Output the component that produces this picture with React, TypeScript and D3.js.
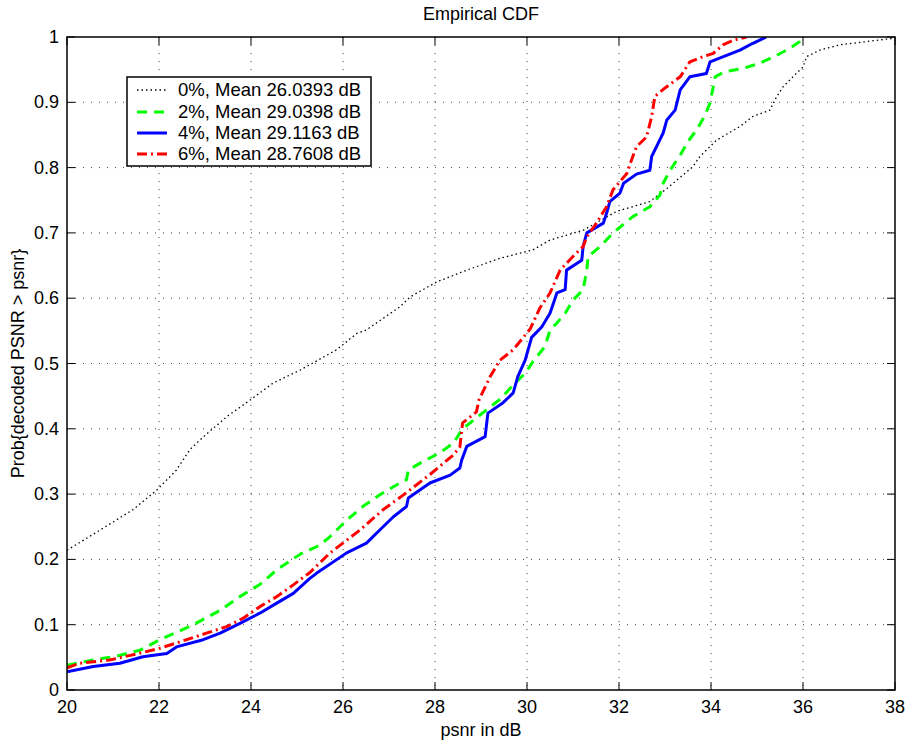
import React from 'react';
import * as d3 from 'd3';

// psnr (dB) vs Prob{decoded PSNR > psnr}
const cdf0: [number, number][] = [
  [20, 0.214], [20.72, 0.245], [21.43, 0.276], [21.95, 0.306], [22.38, 0.337], [22.67, 0.368],
  [23.0, 0.39], [23.5, 0.42], [24.0, 0.445], [24.48, 0.47], [25.07, 0.49], [25.86, 0.521],
  [26.3, 0.546], [26.5, 0.551], [27.24, 0.587], [27.46, 0.602], [28.04, 0.625], [28.69, 0.643],
  [29.41, 0.661], [30.13, 0.674], [30.5, 0.689], [31.22, 0.704], [31.95, 0.733], [32.67, 0.748],
  [33.04, 0.768], [33.6, 0.801], [33.76, 0.817], [34.12, 0.842], [34.63, 0.863], [34.9, 0.878],
  [35.28, 0.888], [35.43, 0.909], [35.57, 0.924], [35.78, 0.939], [36.0, 0.954], [36.08, 0.97],
  [36.37, 0.98], [36.8, 0.988], [37.38, 0.993], [37.96, 0.998], [38, 1.0]
];

const cdf2: [number, number][] = [
  [20, 0.038], [20.57, 0.046], [21.08, 0.052], [21.59, 0.061], [22.02, 0.077], [22.75, 0.1],
  [23.33, 0.122], [23.76, 0.143], [24.2, 0.162], [24.56, 0.184], [25.07, 0.208], [25.5, 0.222],
  [25.72, 0.235], [26.08, 0.26], [26.43, 0.281], [26.8, 0.299], [27.24, 0.317], [27.38, 0.322],
  [27.42, 0.337], [27.74, 0.35], [28.1, 0.363], [28.4, 0.378], [28.6, 0.4], [29.12, 0.429],
  [29.41, 0.445], [29.74, 0.47], [29.96, 0.485], [30.13, 0.503], [30.39, 0.526], [30.5, 0.551],
  [30.65, 0.562], [30.83, 0.577], [31.0, 0.597], [31.22, 0.613], [31.3, 0.643], [31.33, 0.664],
  [31.59, 0.679], [31.87, 0.7], [32.3, 0.725], [32.67, 0.74], [32.89, 0.758], [32.96, 0.776],
  [33.11, 0.796], [33.33, 0.819], [33.5, 0.84], [33.69, 0.858], [33.87, 0.88], [33.98, 0.899],
  [34.05, 0.924], [34.09, 0.939], [34.3, 0.947], [34.7, 0.952], [35.07, 0.96], [35.43, 0.972],
  [35.72, 0.983], [35.93, 0.993], [36.0, 1.0]
];

const cdf4: [number, number][] = [
  [20, 0.028], [20.57, 0.036], [21.15, 0.041], [21.65, 0.051], [22.17, 0.056], [22.38, 0.066],
  [22.96, 0.077], [23.33, 0.087], [23.76, 0.102], [24.2, 0.118], [24.56, 0.133], [24.92, 0.148],
  [25.28, 0.171], [25.43, 0.179], [26.08, 0.21], [26.51, 0.225], [26.8, 0.245], [27.09, 0.265],
  [27.38, 0.281], [27.42, 0.294], [27.89, 0.317], [28.33, 0.329], [28.54, 0.34], [28.58, 0.352],
  [28.69, 0.373], [29.09, 0.388], [29.15, 0.424], [29.48, 0.44], [29.7, 0.455], [29.8, 0.48],
  [29.96, 0.505], [30.1, 0.54], [30.32, 0.556], [30.5, 0.577], [30.65, 0.608], [30.83, 0.613],
  [30.86, 0.643], [31.19, 0.658], [31.22, 0.679], [31.3, 0.7], [31.66, 0.715], [31.73, 0.73],
  [31.8, 0.748], [32.02, 0.761], [32.1, 0.776], [32.38, 0.79], [32.67, 0.796], [32.71, 0.817],
  [32.85, 0.837], [32.96, 0.853], [33.04, 0.873], [33.22, 0.888], [33.33, 0.919], [33.54, 0.939],
  [33.9, 0.944], [33.98, 0.962], [34.2, 0.968], [34.63, 0.98], [34.9, 0.99], [35.2, 1.0]
];

const cdf6: [number, number][] = [
  [20, 0.034], [20.28, 0.041], [20.93, 0.046], [21.5, 0.055], [22.02, 0.064], [22.38, 0.072],
  [23.03, 0.087], [23.47, 0.097], [23.83, 0.11], [24.2, 0.128], [24.56, 0.143], [24.92, 0.161],
  [25.28, 0.18], [25.72, 0.21], [26.37, 0.245], [26.87, 0.276], [27.3, 0.298], [27.89, 0.33],
  [28.4, 0.36], [28.54, 0.372], [28.6, 0.409], [28.9, 0.426], [28.96, 0.445], [29.2, 0.48],
  [29.41, 0.505], [29.7, 0.521], [30.07, 0.553], [30.28, 0.585], [30.5, 0.608], [30.72, 0.643],
  [31.0, 0.664], [31.22, 0.679], [31.3, 0.694], [31.51, 0.715], [31.73, 0.74], [31.87, 0.766],
  [32.17, 0.791], [32.3, 0.817], [32.38, 0.832], [32.6, 0.847], [32.71, 0.878], [32.78, 0.909],
  [33.0, 0.922], [33.33, 0.939], [33.54, 0.962], [33.83, 0.97], [34.05, 0.975], [34.26, 0.988],
  [34.48, 0.995], [34.77, 1.0]
];

const legendLabels = [
  '0%, Mean 26.0393 dB',
  '2%, Mean 29.0398 dB',
  '4%, Mean 29.1163 dB',
  '6%, Mean 28.7608 dB'
];

const xTicks = [20, 22, 24, 26, 28, 30, 32, 34, 36, 38];
const yTicks = [0, 0.1, 0.2, 0.3, 0.4, 0.5, 0.6, 0.7, 0.8, 0.9, 1];

const series = [
  { data: cdf0, color: '#000', width: 1.3, dash: '1.5,3' },
  { data: cdf2, color: '#00ff00', width: 3, dash: '10,7' },
  { data: cdf4, color: '#0000ff', width: 3, dash: null },
  { data: cdf6, color: '#ff0000', width: 3, dash: '10,4,2,4' }
];

const W = 907;
const H = 740;
const left = 67, right = 895, top = 37, bottom = 690;
const font = '"Liberation Sans", Arial, Helvetica, sans-serif';

export default function App() {
  const x = d3.scaleLinear().domain([20, 38]).range([left, right]);
  const y = d3.scaleLinear().domain([0, 1]).range([bottom, top]);
  const line = d3.line<[number, number]>().x(d => x(d[0])).y(d => y(d[1]));

  const legX = 127, legY = 77, legW = 244, legH = 89;
  const rowY = [90, 112, 133, 154];

  return (
    <svg width={W} height={H} style={{ position: 'absolute', left: 0, top: 0, background: '#fff' }}
      fontFamily={font}>
      <rect x={0} y={0} width={W} height={H} fill="#fff" />
      <defs>
        <clipPath id="plot">
          <rect x={left} y={top} width={right - left} height={bottom - top} />
        </clipPath>
      </defs>

      {/* grid */}
      {xTicks.slice(1, -1).map(t => (
        <line key={'gx' + t} x1={x(t)} x2={x(t)} y1={top} y2={bottom}
          stroke="#444" strokeWidth={1} strokeDasharray="1,7" />
      ))}
      {yTicks.slice(1, -1).map(t => (
        <line key={'gy' + t} x1={left} x2={right} y1={y(t)} y2={y(t)}
          stroke="#444" strokeWidth={1} strokeDasharray="1,7" />
      ))}

      {/* ticks, inward on all sides */}
      {xTicks.map(t => (
        <g key={'tx' + t}>
          <line x1={x(t)} x2={x(t)} y1={bottom} y2={bottom - 8} stroke="#000" />
          <line x1={x(t)} x2={x(t)} y1={top} y2={top + 8} stroke="#000" />
          <text x={x(t)} y={bottom + 23} fontSize={18} textAnchor="middle">{t}</text>
        </g>
      ))}
      {yTicks.map(t => (
        <g key={'ty' + t}>
          <line x1={left} x2={left + 8} y1={y(t)} y2={y(t)} stroke="#000" />
          <line x1={right} x2={right - 8} y1={y(t)} y2={y(t)} stroke="#000" />
          <text x={left - 8} y={y(t) + 6} fontSize={18} textAnchor="end">{String(t)}</text>
        </g>
      ))}

      {/* curves */}
      <g clipPath="url(#plot)">
        {series.map((s, i) => (
          <path key={i} d={line(s.data) || ''} fill="none" stroke={s.color}
            strokeWidth={s.width} strokeDasharray={s.dash || undefined} strokeLinejoin="round" />
        ))}
      </g>

      <rect x={left} y={top} width={right - left} height={bottom - top} fill="none" stroke="#000" strokeWidth={1.5} />

      {/* legend */}
      <rect x={legX} y={legY} width={legW} height={legH} fill="#fff" stroke="#000" strokeWidth={1.5} />
      {series.map((s, i) => (
        <g key={'lg' + i}>
          <line x1={137} x2={167} y1={rowY[i]} y2={rowY[i]} stroke={s.color} strokeWidth={s.width}
            strokeDasharray={s.dash || undefined} />
          <text x={178} y={rowY[i] + 6} fontSize={18.5}>{legendLabels[i]}</text>
        </g>
      ))}

      {/* labels */}
      <text x={(left + right) / 2} y={20} fontSize={18} textAnchor="middle">Empirical CDF</text>
      <text x={(left + right) / 2} y={736} fontSize={18} textAnchor="middle">psnr in dB</text>
      <text transform={`translate(24,${(top + bottom) / 2}) rotate(-90)`} fontSize={18} textAnchor="middle">
        {'Prob{decoded PSNR > psnr}'}
      </text>
    </svg>
  );
}
